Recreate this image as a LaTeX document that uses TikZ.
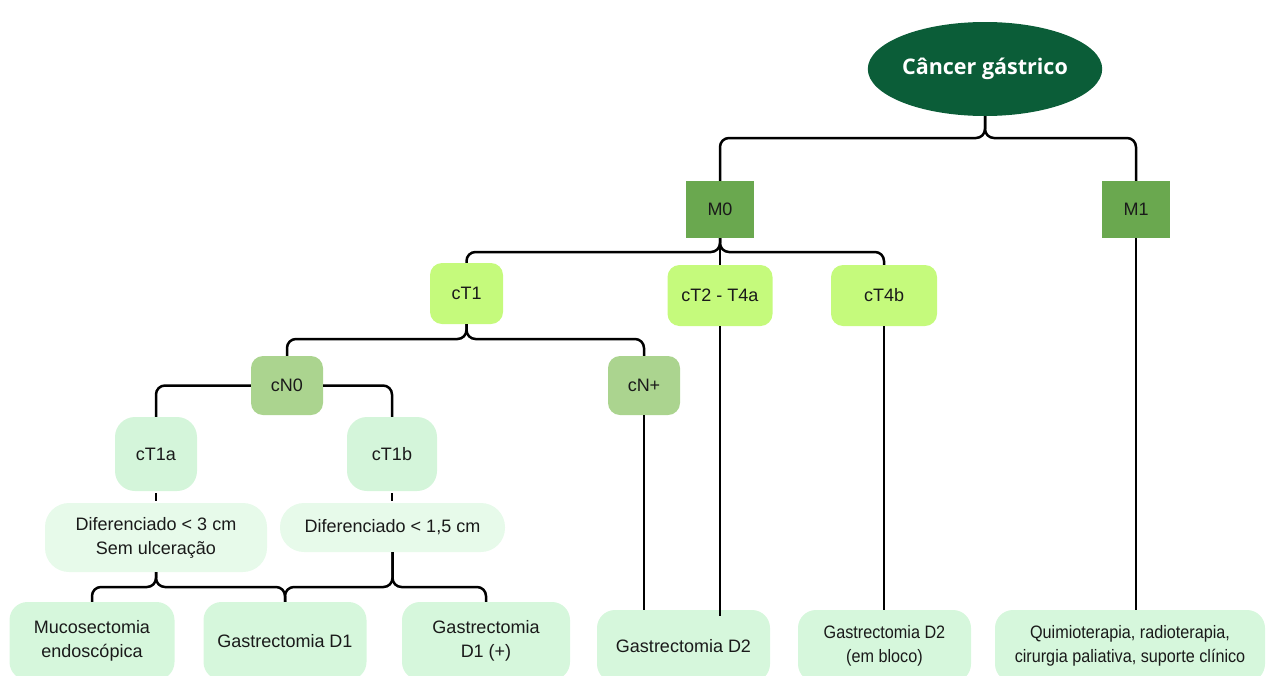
\documentclass[tikz,border=0pt]{standalone}
\usepackage{fontspec}
\setmainfont{Liberation Sans}
\newfontfamily\titlefont{Open Sans}
\newfontfamily\narrowfont[FakeStretch=0.9]{Liberation Sans}
\usepackage{xcolor}
\definecolor{cRoot}{HTML}{0B5D38}
\definecolor{cStage}{HTML}{6AA84F}
\definecolor{cTum}{HTML}{C5FA7C}
\definecolor{cNod}{HTML}{ABD48F}
\definecolor{cSub}{HTML}{D4F5DA}
\definecolor{cCrit}{HTML}{E7FAEA}
\definecolor{cTreat}{HTML}{D6F7DC}
\definecolor{cText}{HTML}{1A1A1A}
\usetikzlibrary{positioning,shapes.geometric}
\tikzset{
  node-root/.style={ellipse,fill=cRoot,text=white,inner sep=0pt,
    minimum width=234pt,minimum height=94pt,
    font=\titlefont\bfseries\fontsize{21.5}{24}\selectfont},
  node-stage/.style={fill=cStage,inner sep=0pt,
    minimum width=68pt,minimum height=57pt},
  node-tum/.style={fill=cTum,rounded corners=12pt,inner sep=0pt,
    minimum height=61pt},
  node-nod/.style={fill=cNod,rounded corners=12pt,inner sep=0pt,
    minimum width=72pt,minimum height=59pt},
  node-sub/.style={fill=cSub,rounded corners=20pt,inner sep=0pt,
    minimum width=82pt,minimum height=74pt},
  node-crit/.style={fill=cCrit,rounded corners=24pt,inner sep=0pt,
    align=center,minimum width=224pt},
  node-treat/.style={fill=cTreat,rounded corners=18pt,inner sep=0pt,
    align=center},
  node-narrow/.style={font=\narrowfont\fontsize{18}{24}\selectfont},
  link/.style={line width=2.5pt,draw=black,rounded corners=9pt},
}

\begin{document}
\begin{tikzpicture}[x=1pt,y=-1pt,text=cText,
    font=\fontsize{18}{24}\selectfont]
  \useasboundingbox (0,0) rectangle (1269,675);
  \clip (0,0) rectangle (1269,675);

  % levels of the horizontal bars
  \coordinate (lvl-root) at (0,138);
  \coordinate (lvl-m0)   at (0,252);
  \coordinate (lvl-ct1)  at (0,339);
  \coordinate (lvl-dif)  at (0,587);

  \node[node-root] (root) at (985,69) {Câncer gástrico};

  \node[node-stage] (m0) at (720,209.5) {M0};
  \node[node-stage] (m1) at (1136,209.5) {M1};

  \node[node-tum,minimum width=73pt]  (ct1)  at (466.5,293.5) {cT1};
  \node[node-tum,minimum width=105pt] (ct2)  at (720,295.5) {cT2 - T4a};
  \node[node-tum,minimum width=106pt] (ct4b) at (884,295.5) {cT4b};

  \node[node-nod] (cn0) at (287,385.5) {cN0};
  \node[node-nod] (cnp) at (644,385.5) {cN+};

  \node[node-sub] (ct1a) at (156,454) {cT1a};
  \node[node-sub,minimum width=90pt] (ct1b) at (392,454) {cT1b};

  \node[node-crit,minimum height=69pt,minimum width=222pt] (dif3) at (156,537.5)
    {Diferenciado < 3 cm\\Sem ulceração};
  \node[node-crit,minimum height=49pt,minimum width=225pt] (dif15) at (392.5,527.5)
    {Diferenciado < 1,5 cm};

  % treatments
  \node[node-treat,minimum width=165pt,minimum height=78pt] (mucos) at (92,641)
    {Mucosectomia\\endoscópica};
  \node[node-treat,minimum width=163pt,minimum height=78pt] (gd1) at (285,641)
    {Gastrectomia D1};
  \node[node-treat,minimum width=168pt,minimum height=78pt] (gd1p) at (486,641)
    {Gastrectomia\\D1 (+)};
  \node[node-treat,minimum width=173pt,minimum height=72pt] (gd2) at (683.5,646)
    {Gastrectomia D2};
  \node[node-treat,node-narrow,minimum width=173pt,minimum height=72pt] (gd2b) at (884.5,646)
    {Gastrectomia D2\\(em bloco)};
  \node[node-treat,node-narrow,minimum width=270pt,minimum height=72pt] (quimio) at (1130,646)
    {Quimioterapia, radioterapia,\\cirurgia paliativa, suporte clínico};

  % tree
  \draw[link] (root.south) |- (m0.north |- lvl-root) -- (m0.north);
  \draw[link] (root.south) |- (m1.north |- lvl-root) -- (m1.north);

  \draw[link] (m0.south) |- (ct1.north |- lvl-m0) -- (ct1.north);
  \draw[link] (m0.south) |- (ct4b.north |- lvl-m0) -- (ct4b.north);
  \draw[link] (m0.south) -- (ct2.north);

  \draw[link] (ct1.south) |- (cn0.north |- lvl-ct1) -- (cn0.north);
  \draw[link] (ct1.south) |- (cnp.north |- lvl-ct1) -- (cnp.north);

  \draw[link] (cn0.west) -| (ct1a.north);
  \draw[link] (cn0.east) -| (ct1b.north);

  \draw[link,shorten <=2pt,shorten >=2pt] (ct1a.south) -- (dif3.north);
  \draw[link,shorten <=2pt,shorten >=2pt] (ct1b.south) -- (ct1b.south |- dif15.north);

  \draw[link] (dif3.south) |- (mucos.north |- lvl-dif) -- (mucos.north);
  \draw[link] (dif3.south) |- (gd1.north |- lvl-dif) -- (gd1.north);
  \draw[link] (dif15.south) |- (gd1.north |- lvl-dif) -- (gd1.north);
  \draw[link] (dif15.south) |- (gd1p.north |- lvl-dif) -- (gd1p.north);

  \draw[link] (cnp.south) -- (cnp.south |- gd2.north);
  \draw[link,shorten >=-6pt] (ct2.south) -- (ct2.south |- gd2.north);
  \draw[link] (ct4b.south) -- (ct4b.south |- gd2b.north);
  \draw[link] (m1.south) -- (m1.south |- quimio.north);
\end{tikzpicture}
\end{document}
